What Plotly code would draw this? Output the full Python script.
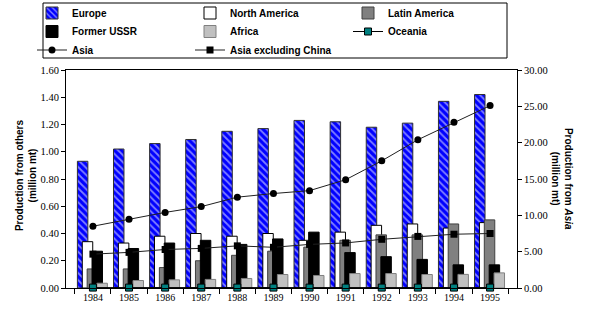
import plotly.graph_objects as go

# ── Data ─────────────────────────────────────────────────────────
years = ["1984", "1985", "1986", "1987", "1988", "1989",
         "1990", "1991", "1992", "1993", "1994", "1995"]

# left axis, million mt
europe        = [0.93, 1.02, 1.06, 1.09, 1.15, 1.17, 1.23, 1.22, 1.18, 1.21, 1.37, 1.42]
north_america = [0.34, 0.33, 0.38, 0.40, 0.38, 0.40, 0.35, 0.41, 0.46, 0.47, 0.44, 0.48]
latin_america = [0.14, 0.14, 0.15, 0.20, 0.24, 0.27, 0.30, 0.35, 0.39, 0.39, 0.47, 0.50]
former_ussr   = [0.27, 0.29, 0.33, 0.35, 0.32, 0.36, 0.41, 0.26, 0.23, 0.21, 0.17, 0.17]
africa        = [0.035, 0.055, 0.06, 0.063, 0.07, 0.099, 0.092, 0.106, 0.106, 0.099, 0.10, 0.111]
oceania       = [0.003, 0.003, 0.003, 0.003, 0.003, 0.003, 0.003, 0.003, 0.003, 0.003, 0.003, 0.003]

# right axis, million mt
asia          = [8.5, 9.45, 10.4, 11.2, 12.5, 13.0, 13.4, 14.9, 17.5, 20.4, 22.8, 25.1]
asia_ex_china = [4.66, 4.9, 5.3, 5.45, 5.8, 5.6, 6.0, 6.2, 6.7, 7.1, 7.4, 7.5]

SERIF = "Liberation Serif"
SANS = "Liberation Sans"

fig = go.Figure()

# ── Overlapping bars (Excel style) ───────────────────────────────
W = 0.29
bars = [
    ("Europe", europe, "#0000FF", "#303030", -0.43, "legend"),
    ("North America", north_america, "#FFFFFF", "#000000", -0.295, "legend"),
    ("Latin America", latin_america, "#808080", "#404040", -0.16, "legend"),
    ("Former USSR", former_ussr, "#000000", "#000000", -0.025, "legend2"),
    ("Africa", africa, "#C0C0C0", "#808080", 0.11, "legend2"),
]
for name, vals, col, edge, off, lg in bars:
    marker = dict(color=col, line=dict(color=edge, width=1))
    if name == "Europe":
        marker["pattern"] = dict(shape="\\", fgcolor="white", size=5, solidity=0.35)
    fig.add_trace(go.Bar(
        x=years, y=vals, name=name, marker=marker,
        width=W, offset=off, yaxis="y", legend=lg
    ))

# ── Lines ────────────────────────────────────────────────────────
fig.add_trace(go.Scatter(
    x=years, y=oceania, name="Oceania", mode="lines+markers", yaxis="y",
    line=dict(color="#000000", width=1),
    marker=dict(symbol="square", size=7, color="#008080",
                line=dict(color="#000000", width=1)),
    cliponaxis=False, legend="legend2"
))
fig.add_trace(go.Scatter(
    x=years, y=asia, name="Asia", mode="lines+markers", yaxis="y2",
    line=dict(color="#202020", width=1),
    marker=dict(symbol="circle", size=7, color="#000000"),
    legend="legend3"
))
fig.add_trace(go.Scatter(
    x=years, y=asia_ex_china, name="Asia excluding China", mode="lines+markers",
    yaxis="y2",
    line=dict(color="#202020", width=1),
    marker=dict(symbol="square", size=7, color="#000000"),
    legend="legend3"
))


def legend_row(page_y):
    # one legend row; page coords -> paper coords of the 451x218 plot area
    return dict(
        orientation="h", x=(32 - 66) / 451, y=(288 - page_y) / 218,
        xanchor="left", yanchor="middle",
        font=dict(family=SANS, size=10, color="black", weight="bold"),
        borderwidth=0, bgcolor="rgba(0,0,0,0)",
        entrywidth=113, entrywidthmode="pixels", itemwidth=30,
        traceorder="normal",
    )


fig.update_layout(
    width=591, height=318,
    margin=dict(l=66, r=74, t=70, b=30, autoexpand=False),
    paper_bgcolor="white", plot_bgcolor="white",
    barmode="overlay",
    showlegend=True,
    legend=legend_row(13),
    legend2=legend_row(31.5),
    legend3=legend_row(50),
    xaxis=dict(
        type="category", tickson="boundaries", ticks="outside", ticklen=5,
        tickcolor="black", showline=True, linecolor="black", linewidth=1,
        mirror=True, showgrid=False,
        tickfont=dict(family=SERIF, size=10, color="black"),
    ),
    yaxis=dict(
        range=[0, 1.6], dtick=0.2, tickformat=".2f", ticks="outside", ticklen=4,
        tickcolor="black", showline=True, linecolor="black", linewidth=1,
        showgrid=False, zeroline=False,
        tickfont=dict(family=SERIF, size=10.5, color="black"),
    ),
    yaxis2=dict(
        range=[0, 30], dtick=5, tickformat=".2f", ticks="outside", ticklen=4,
        tickcolor="black", showline=True, linecolor="black", linewidth=1,
        showgrid=False, zeroline=False, overlaying="y", side="right",
        tickfont=dict(family=SERIF, size=10.5, color="black"),
    ),
    shapes=[
        # legend frame
        dict(type="rect", xref="paper", yref="paper",
             x0=(43 - 66) / 451, x1=(507 - 66) / 451,
             y0=(288 - 58) / 218, y1=(288 - 3) / 218,
             line=dict(color="black", width=1), fillcolor="rgba(0,0,0,0)"),
    ],
    annotations=[
        dict(text="Production from others<br>(million mt)", textangle=-90,
             xref="paper", yref="paper", x=-0.09, y=0.52,
             xanchor="center", yanchor="middle", showarrow=False,
             font=dict(family=SANS, size=10, color="black", weight="bold")),
        dict(text="Production from <i>Asia</i><br>(million mt)", textangle=90,
             xref="paper", yref="paper", x=1.1, y=0.50,
             xanchor="center", yanchor="middle", showarrow=False,
             font=dict(family=SANS, size=10, color="black", weight="bold")),
    ],
)

# drop the default page margin so the figure sits at the window's corner
fig.write_html("out.html", config={"displayModeBar": False},
               post_script="document.body.style.margin='0';")
